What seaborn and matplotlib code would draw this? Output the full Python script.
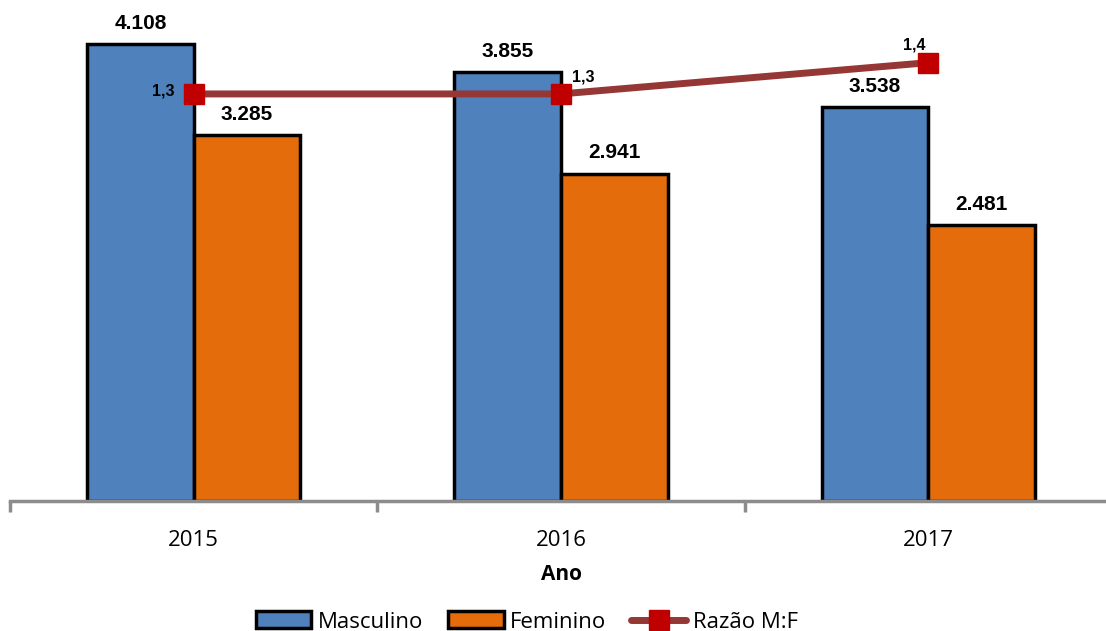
import numpy as np
import pandas as pd
import matplotlib
matplotlib.use("Agg")
import matplotlib.pyplot as plt
import seaborn as sns
from matplotlib.patches import Patch
from matplotlib.lines import Line2D

# ---------- dados ----------
anos = ["2015", "2016", "2017"]
masculino = [4108, 3855, 3538]
feminino = [3285, 2941, 2481]
razao = [1.3, 1.3, 1.4]

cor_masc = "#4F81BD"
cor_fem = "#E46C0A"
cor_linha = "#953735"
cor_marca = "#C00000"
cinza = "#8C8C8C"
fonte_txt = ["Open Sans", "DejaVu Sans"]

df = pd.DataFrame({
    "Ano": anos * 2,
    "Casos": masculino + feminino,
    "Sexo": ["Masculino"] * 3 + ["Feminino"] * 3,
})

sns.set_theme(style="white")
plt.rcParams["font.family"] = ["Liberation Sans", "DejaVu Sans"]

fig = plt.figure(figsize=(11.06, 6.31), dpi=100)
ax = fig.add_axes([10 / 1106, 130 / 631, 1102 / 1106, 501 / 631])

sns.barplot(data=df, x="Ano", y="Casos", hue="Sexo", order=anos,
            hue_order=["Masculino", "Feminino"],
            palette=[cor_masc, cor_fem], saturation=1, width=0.58, gap=0,
            edgecolor="black", linewidth=2.5, legend=False, ax=ax)
ax.set_xlim(-0.5, 2.5)
ax.set_ylim(0, 4500)

# rótulos das barras
for cont in ax.containers:
    for bar in cont:
        h = bar.get_height()
        ax.annotate(f"{int(h):,}".replace(",", "."),
                    (bar.get_x() + bar.get_width() / 2, h),
                    xytext=(0, 8), textcoords="offset points",
                    ha="center", va="bottom", fontsize=15,
                    fontweight="bold", color="black")

# eixos
for s in ["top", "right", "left"]:
    ax.spines[s].set_visible(False)
ax.spines["bottom"].set_color(cinza)
ax.spines["bottom"].set_linewidth(2.5)
ax.set_yticks([])
ax.set_ylabel("")
ax.set_xticks([-0.5, 0.5, 1.5, 2.5], minor=True)
ax.tick_params(axis="x", which="minor", bottom=True, length=8, width=2.5,
               color=cinza, direction="out")
ax.tick_params(axis="x", which="major", length=0, pad=21)
for lab in ax.get_xticklabels():
    lab.set_fontfamily(fonte_txt)
    lab.set_fontsize(16)
    lab.set_color("black")
ax.set_xlabel("Ano", fontsize=15, fontweight="bold", color="black",
              fontfamily=fonte_txt, labelpad=9)

# razão M:F (eixo secundário)
ax2 = ax.twinx()
ax2.plot(range(len(anos)), razao, color=cor_linha, linewidth=5,
         marker="s", markersize=14, markerfacecolor=cor_marca,
         markeredgecolor=cor_marca, zorder=5)
ax2.set_ylim(0, 1.6)
ax2.set_yticks([])
for s in ax2.spines.values():
    s.set_visible(False)

offsets = [(-14, 2, "right", "center"), (8, 12, "left", "center"),
           (-10, 7, "center", "bottom")]
for i, r in enumerate(razao):
    dx, dy, ha, va = offsets[i]
    ax2.annotate(f"{r:.1f}".replace(".", ","), (i, r), xytext=(dx, dy),
                 textcoords="offset points", ha=ha, va=va,
                 fontsize=11.5, fontweight="bold", color="black")

# legenda
handles = [
    Patch(facecolor=cor_masc, edgecolor="black", linewidth=2.5, label="Masculino"),
    Patch(facecolor=cor_fem, edgecolor="black", linewidth=2.5, label="Feminino"),
    Line2D([0], [0], color=cor_linha, linewidth=5, marker="s", markersize=14,
           markerfacecolor=cor_marca, markeredgecolor=cor_marca, label="Razão M:F"),
]
fig.legend(handles=handles, loc="center", bbox_to_anchor=(527 / 1106, 9 / 631),
           ncol=3, frameon=False, handlelength=2.5, handleheight=0.8,
           handletextpad=0.3, columnspacing=1.1, labelcolor="black",
           prop={"family": fonte_txt, "size": 16})

fig.savefig("out.png", dpi=100)
